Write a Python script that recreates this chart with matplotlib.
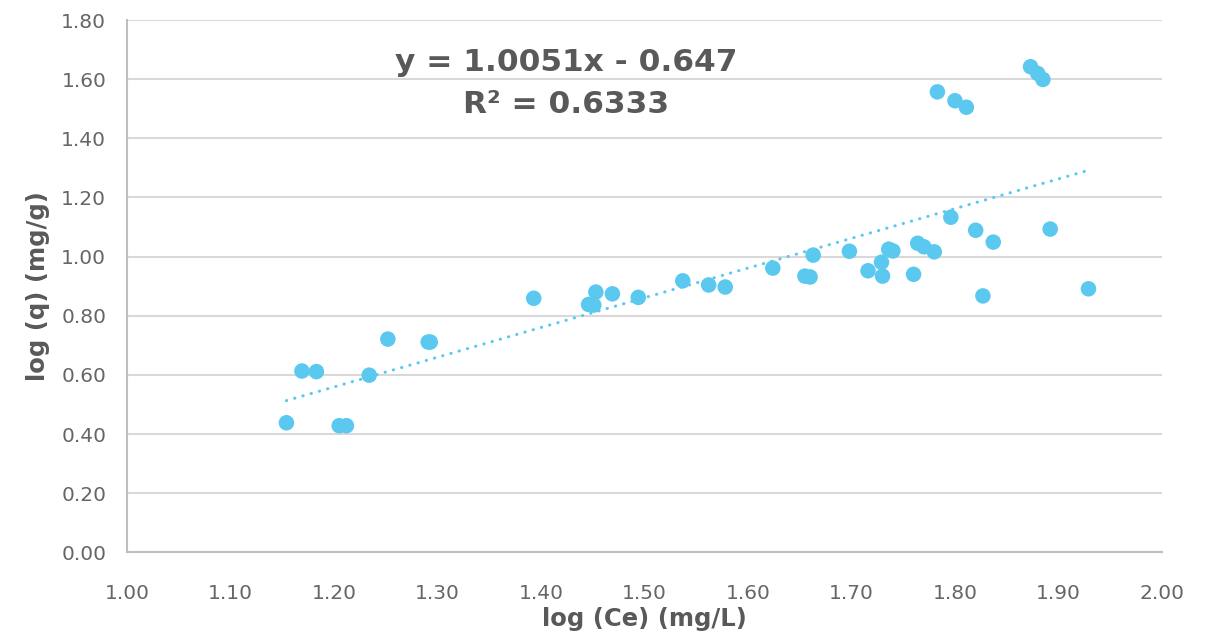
#!/usr/bin/env python3
"""
Isoterma de Freundlich linealizada: log(q) vs log(Ce) con recta de tendencia
"""

import numpy as np
import matplotlib
matplotlib.use("Agg")
import matplotlib.pyplot as plt

# Datos
log_ce = [1.154, 1.169, 1.183, 1.205, 1.212, 1.234, 1.252, 1.291, 1.293,
          1.393, 1.446, 1.451, 1.453, 1.469, 1.494, 1.537, 1.562, 1.578,
          1.624, 1.655, 1.660, 1.663, 1.698, 1.716, 1.729, 1.730, 1.736,
          1.740, 1.760, 1.764, 1.770, 1.780, 1.796, 1.783, 1.800, 1.811,
          1.820, 1.827, 1.837, 1.873, 1.880, 1.885, 1.892, 1.929]
log_q = [0.438, 0.613, 0.611, 0.428, 0.428, 0.599, 0.721, 0.711, 0.711,
         0.859, 0.838, 0.836, 0.880, 0.874, 0.862, 0.918, 0.904, 0.897,
         0.961, 0.934, 0.931, 1.005, 1.018, 0.952, 0.981, 0.934, 1.025,
         1.019, 0.940, 1.045, 1.033, 1.016, 1.133, 1.557, 1.527, 1.505,
         1.089, 0.867, 1.049, 1.642, 1.619, 1.599, 1.093, 0.891]

# Recta de tendencia (Excel)
SLOPE = 1.0051
INTERCEPT = -0.647
R2 = 0.6333

X_TICKS = np.arange(1.0, 2.001, 0.1)
Y_TICKS = np.arange(0.0, 1.801, 0.2)

POINT_COLOR = '#5BC9EF'
TEXT_COLOR = '#595959'
GRID_COLOR = '#D9D9D9'


def plot_isotherm():
    fig = plt.figure(figsize=(12.11, 6.39), dpi=100)
    ax = fig.add_axes([0.1049, 0.1357, 0.8546, 0.8330])

    ax.scatter(log_ce, log_q, s=125, color=POINT_COLOR, edgecolors='none', zorder=3)

    x_fit = np.array([min(log_ce), max(log_ce)])
    y_fit = SLOPE * x_fit + INTERCEPT
    ax.plot(x_fit, y_fit, color=POINT_COLOR, linewidth=2.2,
            linestyle=(0, (0.1, 2.7)), dash_capstyle='round', zorder=2)

    ax.set_xlim(1.0, 2.0)
    ax.set_ylim(0.0, 1.8)
    ax.set_xticks(X_TICKS)
    ax.set_yticks(Y_TICKS)
    ax.set_xticklabels([f'{v:.2f}' for v in X_TICKS])
    ax.set_yticklabels([f'{v:.2f}' for v in Y_TICKS])
    ax.tick_params(length=0, labelsize=14.5, labelcolor='#666666')
    ax.tick_params(axis='x', pad=23)
    ax.tick_params(axis='y', pad=15)

    ax.grid(axis='y', color=GRID_COLOR, linewidth=1.5)
    ax.set_axisbelow(True)
    for side in ['top', 'right']:
        ax.spines[side].set_visible(False)
    ax.spines['left'].set_color('#BFBFBF')
    ax.spines['bottom'].set_color('#BFBFBF')
    ax.spines['left'].set_linewidth(1.5)
    ax.spines['bottom'].set_linewidth(1.5)

    ax.set_xlabel('log (Ce) (mg/L)', fontsize=17.5, fontweight='bold',
                  color=TEXT_COLOR, labelpad=3)
    ax.set_ylabel('log (q) (mg/g)', fontsize=17.5, fontweight='bold',
                  color=TEXT_COLOR, labelpad=8)

    ax.text(0.424, 0.921, f'y = {SLOPE:.4f}x - {abs(INTERCEPT):.3f}',
            transform=ax.transAxes, ha='center', va='center',
            fontsize=22.5, fontweight='bold', color=TEXT_COLOR)
    ax.text(0.424, 0.842, f'R² = {R2:.4f}',
            transform=ax.transAxes, ha='center', va='center',
            fontsize=22.5, fontweight='bold', color=TEXT_COLOR)

    fig.savefig('out.png', dpi=100)


if __name__ == "__main__":
    plot_isotherm()
